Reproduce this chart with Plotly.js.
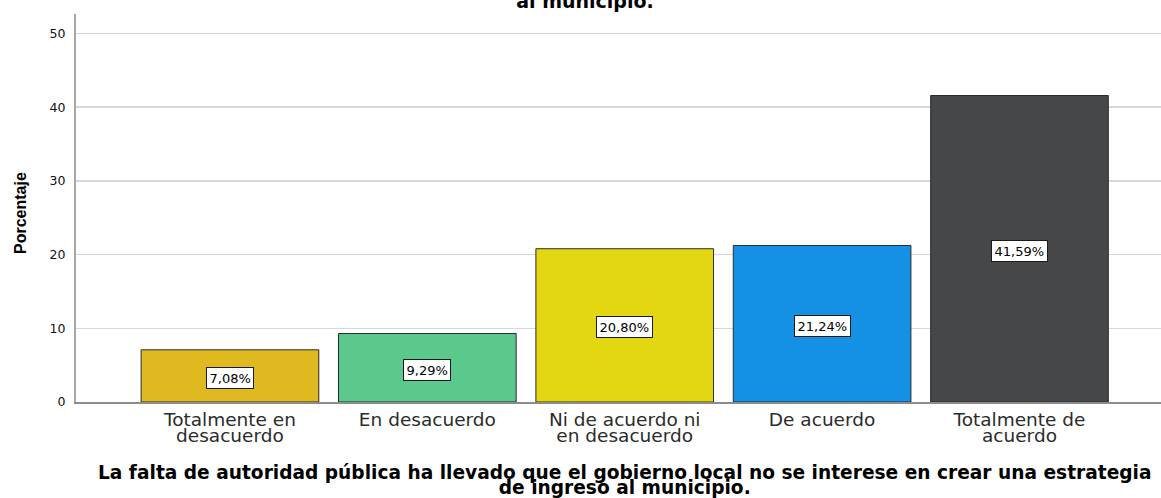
<!DOCTYPE html>
<html>
<head>
<meta charset="utf-8">
<script src="https://cdn.plot.ly/plotly-3.0.1.min.js"></script>
<style>html,body{margin:0;padding:0;background:#fff;}#chart{width:1161px;height:498px;}</style>
</head>
<body>
<div id="chart"></div>
<script>
// Data
const categories = ['Totalmente en desacuerdo', 'En desacuerdo', 'Ni de acuerdo ni en desacuerdo', 'De acuerdo', 'Totalmente de acuerdo'];
const tickLabels = ['Totalmente en<br>desacuerdo', 'En desacuerdo', 'Ni de acuerdo ni<br>en desacuerdo', 'De acuerdo', 'Totalmente de<br>acuerdo'];
const percentages = [7.08, 9.29, 20.80, 21.24, 41.59];
const barColors = ['#E0B81F', '#5BC98B', '#E2D711', '#1490E4', '#464749'];
const yTicks = [0, 10, 20, 30, 40, 50];
const titleText = 'al municipio.';
const xTitleText = 'La falta de autoridad pública ha llevado que el gobierno local no se interese en crear una estrategia<br>de ingreso al municipio.';
const yTitleText = 'Porcentaje';

const FONT = 'DejaVu Sans, Verdana, sans-serif';

const trace = {
  type: 'bar',
  x: categories,
  y: percentages,
  width: 0.9,
  marker: { color: barColors, line: { color: '#2a2a2a', width: 1 } },
  hoverinfo: 'skip'
};

const annotations = [];
// value boxes
categories.forEach((c, i) => {
  annotations.push({
    x: c, y: percentages[i] / 2, xref: 'x', yref: 'y',
    text: percentages[i].toFixed(2).replace('.', ',') + '%',
    showarrow: false, yshift: -2,
    bgcolor: '#ffffff', bordercolor: '#1a1a1a', borderwidth: 1, borderpad: 2.5,
    font: { family: FONT, size: 13, color: '#000' }
  });
});
// x-axis title (two lines)
annotations.push({
  x: 0.5, xref: 'paper', y: 0, yref: 'paper', yanchor: 'top', xshift: 6,
  text: '<b>' + xTitleText + '</b>', showarrow: false, yshift: -58,
  font: { family: FONT, size: 18.6, color: '#000' }
});
// y-axis title
annotations.push({
  x: 0, xref: 'paper', y: 0.5, yref: 'paper', xanchor: 'center', yanchor: 'middle',
  xshift: -56, yshift: -5, textangle: -90,
  text: '<b>' + yTitleText + '</b>', showarrow: false,
  font: { family: 'Liberation Sans, Arial, sans-serif', size: 16, color: '#000' }
});

const layout = {
  width: 1161, height: 498,
  margin: { l: 76, r: 0, t: 14, b: 96 },
  paper_bgcolor: '#fff', plot_bgcolor: '#fff',
  showlegend: false,
  title: {
    text: '<b>' + titleText + '</b>',
    x: 585 / 1161, xanchor: 'center', xref: 'container',
    y: 0.998, yanchor: 'middle', yref: 'container',
    font: { family: FONT, size: 19, color: '#000' }
  },
  xaxis: {
    type: 'category',
    range: [-0.78, 4.717],
    tickmode: 'array', tickvals: categories, ticktext: tickLabels,
    ticks: '', showgrid: false, zeroline: false,
    showline: true, linecolor: '#8c8c8c', linewidth: 1.5,
    tickfont: { family: FONT, size: 18.5, color: '#2b2b2b' },
    fixedrange: true
  },
  yaxis: {
    range: [0, 52.65],
    tickmode: 'array', tickvals: yTicks, ticktext: yTicks.map(String),
    showgrid: true, gridcolor: '#d7d7d7', gridwidth: 1.5,
    zeroline: false, showline: true, linecolor: '#a6a6a6', linewidth: 2,
    ticks: '', ticklabelstandoff: 6,
    tickfont: { family: FONT, size: 12.5, color: '#111' },
    fixedrange: true
  },
  bargap: 0.1,
  annotations: annotations
};

// tighter line spacing for two-line texts (as in the reference)
function tightenLines() {
  const gd = document.getElementById('chart');
  gd.querySelectorAll('.xtick text').forEach(t => {
    const lines = t.querySelectorAll('tspan.line');
    if (lines.length > 1) lines[1].setAttribute('dy', '0.88em');
  });
  gd.querySelectorAll('.annotation-text').forEach(t => {
    const lines = t.querySelectorAll('tspan.line');
    if (lines.length > 1) lines[1].setAttribute('dy', '0.8em');
  });
}

Plotly.newPlot('chart', [trace], layout, { displayModeBar: false, staticPlot: true }).then(tightenLines);
</script>
</body>
</html>
